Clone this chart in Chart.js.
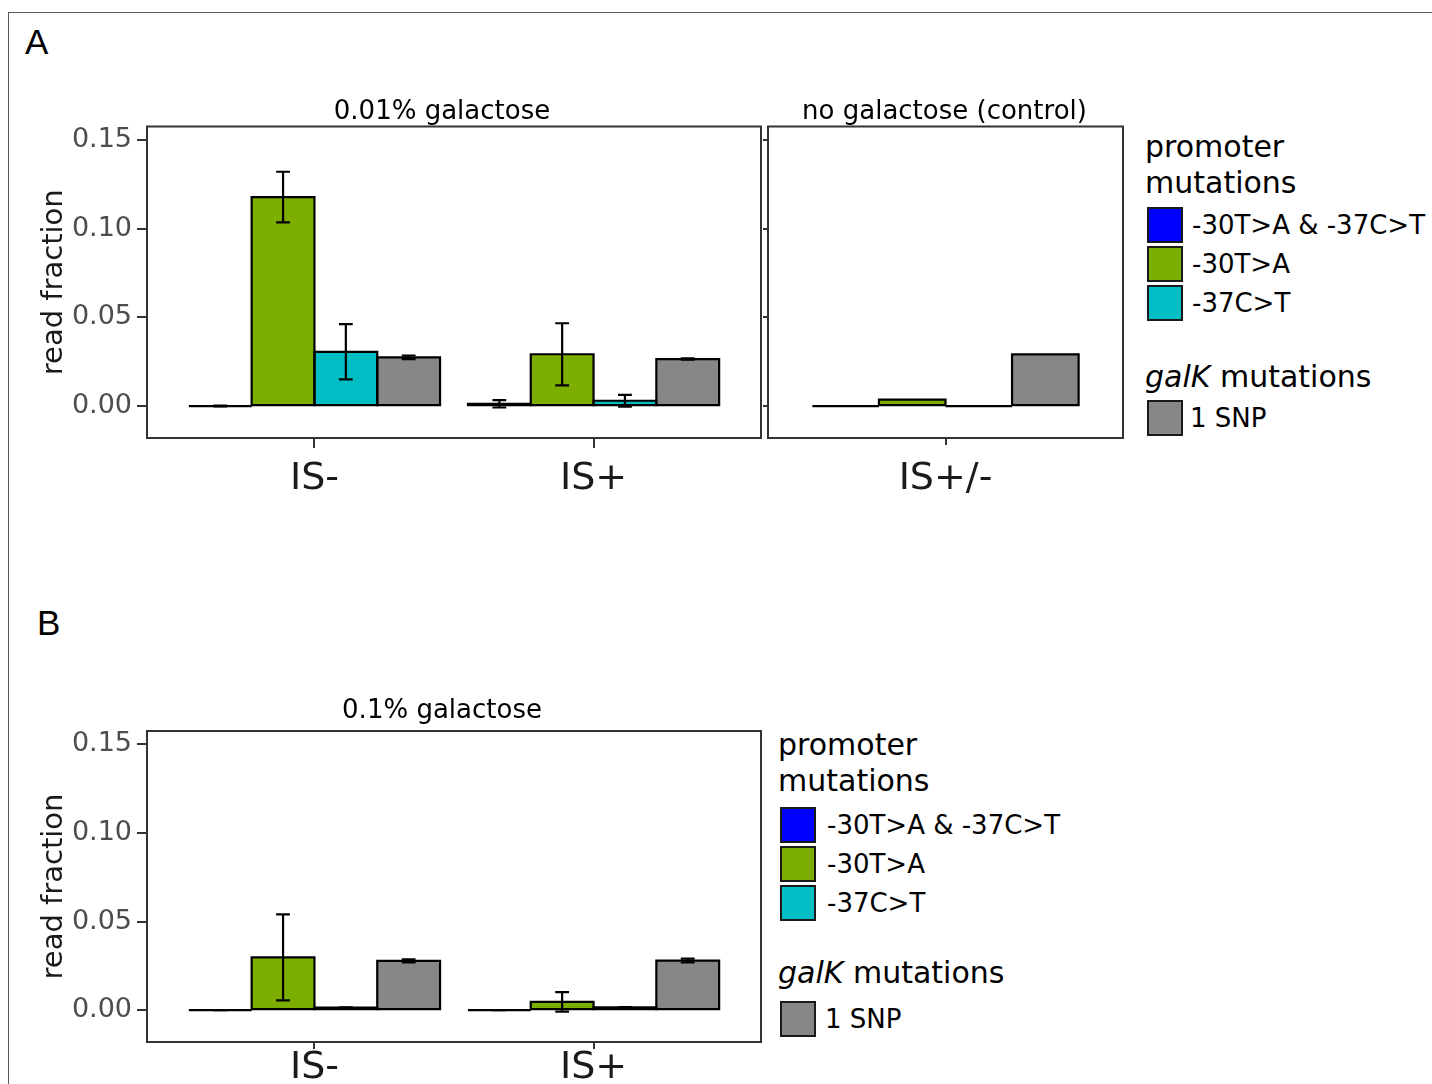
<!DOCTYPE html>
<html>
<head>
<meta charset="utf-8">
<script src="https://cdn.jsdelivr.net/npm/chart.js@4/dist/chart.umd.min.js"></script>
<style>
html,body{margin:0;padding:0;background:#fff;}
body{width:1432px;height:1084px;position:relative;overflow:hidden;font-family:"DejaVu Sans",sans-serif;}
#frame{position:absolute;left:8px;top:12px;width:1500px;height:1200px;border-left:1.5px solid #5a5a5a;border-top:1.5px solid #5a5a5a;box-sizing:border-box;}
.plabel{position:absolute;font-family:"Liberation Sans",Arial,sans-serif;font-size:35px;line-height:40px;color:#000;}
canvas{position:absolute;}
.lgt{position:absolute;font-size:30px;line-height:36px;color:#000;white-space:nowrap;}
.key{position:absolute;box-sizing:border-box;border:2px solid #1a1a1a;}
.klab{position:absolute;font-size:26px;height:36px;display:flex;align-items:center;color:#000;white-space:nowrap;}
</style>
</head>
<body>
<div id="frame"></div>
<div class="plabel" style="left:25px;top:22px;">A</div>
<div class="plabel" style="left:37px;top:603px;">B</div>
<canvas id="c1" width="770" height="420" style="left:0px;top:80px;width:770px;height:420px;"></canvas>
<canvas id="c2" width="380" height="420" style="left:761px;top:80px;width:380px;height:420px;"></canvas>
<canvas id="c3" width="770" height="404" style="left:0px;top:680px;width:770px;height:404px;"></canvas>
<div id="legends"></div>
<script>
// ---------- data ----------
const categoriesGal001 = ['IS-', 'IS+'];
const categoriesControl = ['IS+/-'];
const categoriesGal01 = ['IS-', 'IS+'];
const seriesNames = ['-30T>A & -37C>T', '-30T>A', '-37C>T', '1 SNP'];
const promoterTitle = ['promoter', 'mutations'];
const galkTitleItalic = 'galK';
const galkTitleRest = ' mutations';
const stripGal001 = '0.01% galactose';
const stripControl = 'no galactose (control)';
const stripGal01 = '0.1% galactose';
const yTitle = 'read fraction';
const yTicks = [0, 0.05, 0.10, 0.15];

// A: 0.01% galactose  [IS-, IS+]
const gal001Both = [0.0000, 0.0013];
const gal001T30A = [0.1178, 0.0292];
const gal001C37T = [0.0306, 0.0030];
const gal001SNP  = [0.0275, 0.0265];
const gal001BothErr = [0.0002, 0.0021];
const gal001T30AErr = [0.0143, 0.0175];
const gal001C37TErr = [0.0156, 0.0033];
const gal001SNPErr  = [0.0010, 0.0004];

// A: no galactose (control)  [IS+/-]
const ctrlBoth = [0.0000];
const ctrlT30A = [0.0036];
const ctrlC37T = [0.0000];
const ctrlSNP  = [0.0291];

// B: 0.1% galactose  [IS-, IS+]
const gal01Both = [0.0000, 0.0000];
const gal01T30A = [0.0298, 0.0047];
const gal01C37T = [0.0014, 0.0015];
const gal01SNP  = [0.0278, 0.0280];
const gal01BothErr = [0.0000, 0.0000];
const gal01T30AErr = [0.0243, 0.0055];
const gal01C37TErr = [0.0002, 0.0002];
const gal01SNPErr  = [0.0009, 0.0011];

// ---------- styles ----------
const seriesColors = ['#0000FF', '#7CAE00', '#00BEC4', '#878787'];
const FONT = 'DejaVu Sans';

// ---------- plugins ----------
const barDecor = {
  id: 'barDecor',
  afterDatasetsDraw(chart) {
    const ctx = chart.ctx;
    const ys = chart.scales.y;
    ctx.save();
    ctx.strokeStyle = '#000';
    ctx.lineWidth = 2.2;
    chart.data.datasets.forEach((ds, i) => {
      const meta = chart.getDatasetMeta(i);
      meta.data.forEach(el => {
        const w = el.width;
        ctx.beginPath();
        ctx.rect(el.x - w / 2, Math.min(el.y, el.base), w, Math.abs(el.base - el.y));
        ctx.stroke();
      });
    });
    chart.data.datasets.forEach((ds, i) => {
      if (!ds.errors) return;
      const meta = chart.getDatasetMeta(i);
      meta.data.forEach((el, j) => {
        const e = ds.errors[j];
        if (e === null || e === undefined) return;
        const v = ds.data[j];
        const hi = ys.getPixelForValue(v + e);
        const lo = ys.getPixelForValue(v - e);
        const cw = el.width * 0.11;
        ctx.beginPath();
        ctx.moveTo(el.x, hi); ctx.lineTo(el.x, lo);
        ctx.moveTo(el.x - cw, hi); ctx.lineTo(el.x + cw, hi);
        ctx.moveTo(el.x - cw, lo); ctx.lineTo(el.x + cw, lo);
        ctx.stroke();
      });
    });
    const a = chart.chartArea;
    ctx.strokeStyle = '#333333';
    ctx.lineWidth = 2;
    ctx.strokeRect(a.left, a.top, a.right - a.left, a.bottom - a.top);
    ctx.restore();
  }
};

const stripText = {
  id: 'stripText',
  afterDraw(chart, args, opts) {
    const a = chart.chartArea;
    const ctx = chart.ctx;
    ctx.save();
    ctx.font = '26px "' + FONT + '"';
    ctx.fillStyle = '#000';
    ctx.textAlign = 'center';
    ctx.textBaseline = 'alphabetic';
    ctx.fillText(opts.text, (a.left + a.right) / 2 + opts.shift, a.top - opts.gap);
    ctx.restore();
  }
};

function makeDatasets(vals, errs, catPct) {
  return vals.map((v, i) => ({
    label: seriesNames[i],
    data: v,
    errors: errs ? errs[i] : null,
    backgroundColor: seriesColors[i],
    borderWidth: 0,
    barPercentage: 1.0,
    categoryPercentage: catPct
  }));
}

function makeChart(id, labels, datasets, cfg) {
  return new Chart(document.getElementById(id), {
    type: 'bar',
    data: { labels, datasets },
    plugins: [barDecor, stripText],
    options: {
      responsive: false,
      animation: false,
      devicePixelRatio: 1,
      layout: { padding: { left: 0, right: cfg.padRight, top: cfg.padTop, bottom: 0 } },
      plugins: {
        legend: { display: false },
        tooltip: { enabled: false },
        title: { display: false },
        stripText: { text: cfg.strip, shift: cfg.stripShift, gap: cfg.stripGap }
      },
      scales: {
        x: {
          type: 'category', offset: true,
          grid: { offset: false, drawOnChartArea: false, drawTicks: true, tickLength: cfg.xTick, color: '#333333', lineWidth: 2 },
          border: { display: false },
          ticks: { font: { family: FONT, size: 38, lineHeight: 1.2 }, color: '#1a1a1a', padding: cfg.xPad, maxRotation: 0, autoSkip: false },
          afterBuildTicks: s => { s._startValue -= 0.1; s._valueRange += 0.2; },
          afterFit: s => { s.height = cfg.xHeight; }
        },
        y: {
          type: 'linear', min: -0.018, max: 0.1576,
          afterBuildTicks: s => { s.ticks = yTicks.map(v => ({ value: v })); },
          grid: { drawOnChartArea: false, drawTicks: true, tickLength: cfg.yTick, color: '#333333', lineWidth: 2 },
          border: { display: false },
          ticks: { display: cfg.yLabels, font: { family: FONT, size: 27 }, color: '#4d4d4d', padding: 5, callback: v => Number(v).toFixed(2) },
          title: { display: cfg.yLabels, text: yTitle, color: '#1a1a1a', font: { family: FONT, size: 29, lineHeight: 1.2 }, padding: { top: 36.6, bottom: 0 } },
          afterFit: s => { s.width = cfg.yWidth; }
        }
      }
    }
  });
}

makeChart('c1', categoriesGal001,
  makeDatasets([gal001Both, gal001T30A, gal001C37T, gal001SNP], [gal001BothErr, gal001T30AErr, gal001C37TErr, gal001SNPErr], 0.9),
  { strip: stripGal001, stripShift: -12, stripGap: 7.5, padTop: 46.5, padRight: 9, xTick: 10, xPad: 8, xHeight: 62, yTick: 10, yLabels: true, yWidth: 147 });

makeChart('c2', categoriesControl,
  makeDatasets([ctrlBoth, ctrlT30A, ctrlC37T, ctrlSNP], null, 0.75),
  { strip: stripControl, stripShift: -1, stripGap: 7.5, padTop: 46.5, padRight: 18, xTick: 7, xPad: 11, xHeight: 62, yTick: 5, yLabels: false, yWidth: 7 });

makeChart('c3', categoriesGal01,
  makeDatasets([gal01Both, gal01T30A, gal01C37T, gal01SNP], [gal01BothErr, gal01T30AErr, gal01C37TErr, gal01SNPErr], 0.9),
  { strip: stripGal01, stripShift: -12, stripGap: 13.5, padTop: 51, padRight: 9, xTick: 7, xPad: -4, xHeight: 42, yTick: 10, yLabels: true, yWidth: 147 });

// ---------- legends (HTML, built from the series arrays) ----------
function addEl(cls, style, html) {
  const d = document.createElement('div');
  d.className = cls;
  Object.assign(d.style, style);
  if (html !== undefined) d.innerHTML = html;
  document.getElementById('legends').appendChild(d);
  return d;
}
function makeLegend(L) {
  addEl('lgt', { left: L.x + 'px', top: L.titleTop + 'px' }, promoterTitle.join('<br>'));
  for (let i = 0; i < 3; i++) {
    const top = L.keyTop + i * 39;
    addEl('key', { left: L.keyX + 'px', top: top + 'px', width: '36px', height: '36px', background: seriesColors[i] });
    const lab = addEl('klab', { left: L.labX + 'px', top: top + 'px' });
    lab.textContent = seriesNames[i];
  }
  const gt = addEl('lgt', { left: L.x + 'px', top: L.galkTop + 'px' });
  const it = document.createElement('i'); it.textContent = galkTitleItalic;
  gt.appendChild(it); gt.appendChild(document.createTextNode(galkTitleRest));
  addEl('key', { left: L.keyX + 'px', top: L.galkKeyTop + 'px', width: '36px', height: '36px', background: seriesColors[3] });
  const lab = addEl('klab', { left: L.snpX + 'px', top: L.galkKeyTop + 'px' });
  lab.textContent = seriesNames[3];
}
makeLegend({ x: 1145, titleTop: 128.6, keyX: 1147, keyTop: 207, labX: 1192, galkTop: 358.6, galkKeyTop: 400, snpX: 1190 });
makeLegend({ x: 778, titleTop: 726.6, keyX: 780, keyTop: 807, labX: 827, galkTop: 954.6, galkKeyTop: 1001, snpX: 825 });
</script>
</body>
</html>
